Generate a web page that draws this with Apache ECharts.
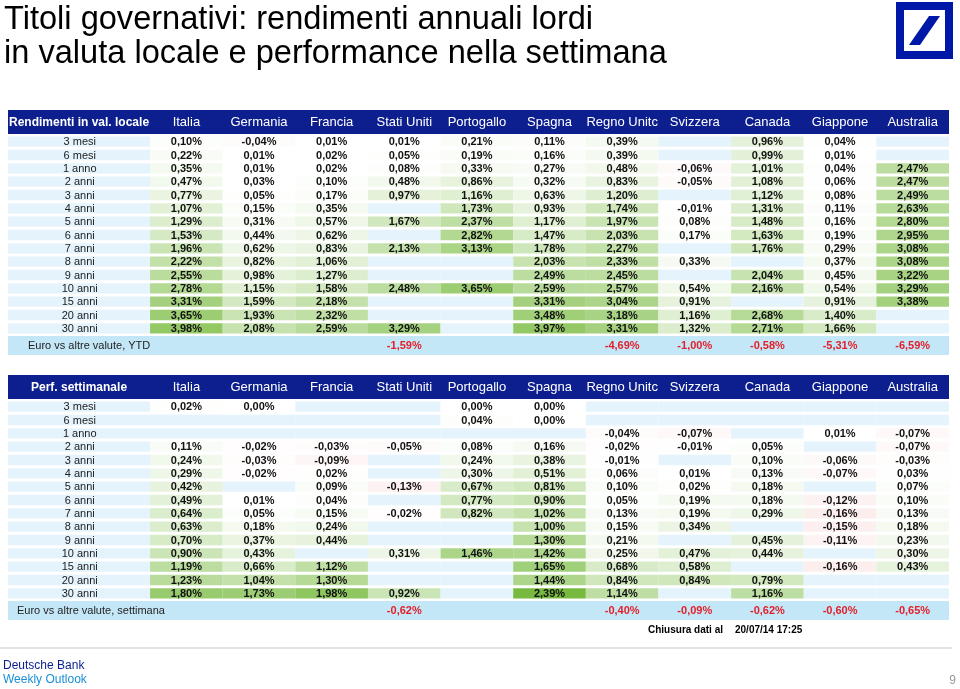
<!DOCTYPE html>
<html><head><meta charset="utf-8">
<script src="https://cdn.jsdelivr.net/npm/echarts@6/dist/echarts.min.js"></script>
<style>html,body{margin:0;padding:0;background:#fff}#c{width:960px;height:689px}</style>
</head><body><div id="c"></div>
<script>
// ---------- DATA ----------
const rowLabels = ['3 mesi','6 mesi','1 anno','2 anni','3 anni','4 anni','5 anni','6 anni','7 anni','8 anni','9 anni','10 anni','15 anni','20 anni','30 anni'];
const countries = ['Italia','Germania','Francia','Stati Uniti','Portogallo','Spagna','Regno Unitc','Svizzera','Canada','Giappone','Australia'];

// Rendimenti in valuta locale (%)
const rendItalia     = [0.10,0.22,0.35,0.47,0.77,1.07,1.29,1.53,1.96,2.22,2.55,2.78,3.31,3.65,3.98];
const rendGermania   = [-0.04,0.01,0.01,0.03,0.05,0.15,0.31,0.44,0.62,0.82,0.98,1.15,1.59,1.93,2.08];
const rendFrancia    = [0.01,0.02,0.02,0.10,0.17,0.35,0.57,0.62,0.83,1.06,1.27,1.58,2.18,2.32,2.59];
const rendStatiUniti = [0.01,0.05,0.08,0.48,0.97,null,1.67,null,2.13,null,null,2.48,null,null,3.29];
const rendPortogallo = [0.21,0.19,0.33,0.86,1.16,1.73,2.37,2.82,3.13,null,null,3.65,null,null,null];
const rendSpagna     = [0.11,0.16,0.27,0.32,0.63,0.93,1.17,1.47,1.78,2.03,2.49,2.59,3.31,3.48,3.97];
const rendRegnoUnito = [0.39,0.39,0.48,0.83,1.20,1.74,1.97,2.03,2.27,2.33,2.45,2.57,3.04,3.18,3.31];
const rendSvizzera   = [null,null,-0.06,-0.05,null,-0.01,0.08,0.17,null,0.33,null,0.54,0.91,1.16,1.32];
const rendCanada     = [0.96,0.99,1.01,1.08,1.12,1.31,1.48,1.63,1.76,null,2.04,2.16,null,2.68,2.71];
const rendGiappone   = [0.04,0.01,0.04,0.06,0.08,0.11,0.16,0.19,0.29,0.37,0.45,0.54,0.91,1.40,1.66];
const rendAustralia  = [null,null,2.47,2.47,2.49,2.63,2.80,2.95,3.08,3.08,3.22,3.29,3.38,null,null];
const euroYTD        = [null,null,null,-1.59,null,null,-4.69,-1.00,-0.58,-5.31,-6.59];

// Performance settimanale (%)
const perfItalia     = [0.02,null,null,0.11,0.24,0.29,0.42,0.49,0.64,0.63,0.70,0.90,1.19,1.23,1.80];
const perfGermania   = [0.00,null,null,-0.02,-0.03,-0.02,null,0.01,0.05,0.18,0.37,0.43,0.66,1.04,1.73];
const perfFrancia    = [null,null,null,-0.03,-0.09,0.02,0.09,0.04,0.15,0.24,0.44,null,1.12,1.30,1.98];
const perfStatiUniti = [null,null,null,-0.05,null,null,-0.13,null,-0.02,null,null,0.31,null,null,0.92];
const perfPortogallo = [0.00,0.04,null,0.08,0.24,0.30,0.67,0.77,0.82,null,null,1.46,null,null,null];
const perfSpagna     = [0.00,0.00,null,0.16,0.38,0.51,0.81,0.90,1.02,1.00,1.30,1.42,1.65,1.44,2.39];
const perfRegnoUnito = [null,null,-0.04,-0.02,-0.01,0.06,0.10,0.05,0.13,0.15,0.21,0.25,0.68,0.84,1.14];
const perfSvizzera   = [null,null,-0.07,-0.01,null,0.01,0.02,0.19,0.19,0.34,null,0.47,0.58,0.84,null];
const perfCanada     = [null,null,null,0.05,0.10,0.13,0.18,0.18,0.29,null,0.45,0.44,null,0.79,1.16];
const perfGiappone   = [null,null,0.01,null,-0.06,-0.07,null,-0.12,-0.16,-0.15,-0.11,null,-0.16,null,null];
const perfAustralia  = [null,null,-0.07,-0.07,-0.03,0.03,0.07,0.10,0.13,0.18,0.23,0.30,0.43,null,null];
const euroSettimana  = [null,null,null,-0.62,null,null,-0.40,-0.09,-0.62,-0.60,-0.65];

const rendCols = [rendItalia,rendGermania,rendFrancia,rendStatiUniti,rendPortogallo,rendSpagna,rendRegnoUnito,rendSvizzera,rendCanada,rendGiappone,rendAustralia];
const perfCols = [perfItalia,perfGermania,perfFrancia,perfStatiUniti,perfPortogallo,perfSpagna,perfRegnoUnito,perfSvizzera,perfCanada,perfGiappone,perfAustralia];

// ---------- STYLE ----------
const FONT = '"Liberation Sans", Arial, sans-serif';
const NAVY = '#0d1f8e';
const EMPTY = '#e4f3fc';
const EURO_BG = '#c4e7f8';
const LABEL_W = 1.956; // label column width in column units

function mix(a, b, t) {
  t = Math.max(0, Math.min(1, t));
  return 'rgb(' + a.map((v, i) => Math.round(v + (b[i] - v) * t)).join(',') + ')';
}
function cellColor(v, posMax, posCol) {
  if (v == null) return EMPTY;
  if (v >= 0) return mix([255,255,255], posCol, v / posMax);
  return mix([255,255,255], [240,150,150], -v / 1.0);
}
function fmt(v) { return v.toFixed(2).replace('.', ',') + '%'; }

function buildItems(title, cols, euroLabel, euroVals, posMax, posCol) {
  const items = [];
  items.push({ v: [-LABEL_W, -1.875, 11, -0.075], fill: NAVY });
  items.push({ v: [-LABEL_W, -1.875, 0, -0.075], text: title, font: 'bold 12px ' + FONT, color: '#fff' });
  countries.forEach((c, j) => items.push({ v: [j, -1.875, j + 1, -0.075], text: c, font: '13px ' + FONT, color: '#fff' }));
  rowLabels.forEach((r, i) => {
    items.push({ v: [-LABEL_W, i, 0, i + 1], fill: EMPTY, inset: 1.5, text: r, font: '11px ' + FONT, color: '#222', textOff: 0.005 });
    cols.forEach((col, j) => {
      const val = col[i];
      items.push({ v: [j, i, j + 1, i + 1], fill: cellColor(val, posMax, posCol), inset: 1.5,
                   text: val == null ? '' : fmt(val), font: 'bold 11px ' + FONT, color: '#111' });
    });
  });
  items.push({ v: [-LABEL_W, 15.08, 11, 16.5], fill: EURO_BG });
  items.push({ v: [-LABEL_W, 15.08, 0, 16.5], text: euroLabel, font: '11px ' + FONT, color: '#222', align: 'left', leftPad: euroLabel.length > 26 ? 9 : 20 });
  euroVals.forEach((val, j) => {
    if (val != null) items.push({ v: [j, 15.08, j + 1, 16.5], text: fmt(val), font: 'bold 11px ' + FONT, color: '#e3202a' });
  });
  return items;
}

function makeSeries(idx, items) {
  return {
    type: 'custom', coordinateSystem: 'cartesian2d', xAxisIndex: idx, yAxisIndex: idx,
    silent: true, animation: false,
    encode: { x: [0, 2], y: [1, 3] },
    data: items.map(it => it.v),
    renderItem: function (params, api) {
      const it = items[params.dataIndex];
      const p0 = api.coord([api.value(0), api.value(1)]);
      const p1 = api.coord([api.value(2), api.value(3)]);
      const inset = it.inset || 0;
      const x = Math.min(p0[0], p1[0]), w = Math.abs(p1[0] - p0[0]);
      const y = Math.min(p0[1], p1[1]) + inset, h = Math.abs(p1[1] - p0[1]) - 2 * inset;
      const children = [];
      if (it.fill) children.push({ type: 'rect', shape: { x: x, y: y, width: w, height: h }, style: { fill: it.fill } });
      if (it.text) {
        const left = it.align === 'left';
        children.push({ type: 'text', style: {
          text: it.text, font: it.font, fill: it.color,
          x: left ? x + it.leftPad : x + w / 2 + (it.textOff || 0) * w, y: y + h / 2 + 0.5,
          textAlign: left ? 'left' : 'center', textVerticalAlign: 'middle' } });
      }
      return { type: 'group', children: children };
    }
  };
}

const topItems = buildItems('Rendimenti in val. locale', rendCols, 'Euro vs altre valute, YTD', euroYTD, 4.0, [146,200,100]);
const botItems = buildItems('Perf. settimanale', perfCols, 'Euro vs altre valute, settimana', euroSettimana, 2.4, [118,186,62]);

const chart = echarts.init(document.getElementById('c'), null, { renderer: 'canvas' });
const axX = i => ({ type: 'value', gridIndex: i, min: -LABEL_W, max: 11, show: false, splitLine: { show: false } });
const axY = i => ({ type: 'value', gridIndex: i, min: -1.875, max: 16.5, inverse: true, show: false, splitLine: { show: false } });
chart.setOption({
  animation: false,
  grid: [
    { left: 8, right: 11, top: 110, height: 245 },
    { left: 8, right: 11, top: 375, height: 245 }
  ],
  xAxis: [axX(0), axX(1)],
  yAxis: [axY(0), axY(1)],
  series: [makeSeries(0, topItems), makeSeries(1, botItems)],
  graphic: [
    { type: 'text', left: 4, top: 3, style: { text: 'Titoli governativi: rendimenti annuali lordi\nin valuta locale e performance nella settimana', font: '32.6px ' + FONT, fill: '#000', lineHeight: 34 } },
    { type: 'rect', shape: { x: 900, y: 6, width: 49, height: 49 }, style: { fill: 'none', stroke: '#0018a8', lineWidth: 8 } },
    { type: 'polygon', shape: { points: [[909,45],[920,45],[940,16],[929,16]] }, style: { fill: '#0018a8' } },
    { type: 'text', x: 648, y: 630, style: { text: 'Chiusura dati al', font: 'bold 10px ' + FONT, fill: '#000', textVerticalAlign: 'middle' } },
    { type: 'text', x: 735, y: 630, style: { text: '20/07/14 17:25', font: 'bold 10px ' + FONT, fill: '#000', textVerticalAlign: 'middle' } },
    { type: 'line', shape: { x1: 0, y1: 648, x2: 952, y2: 648 }, style: { stroke: '#c8c8c8', lineWidth: 1.2 } },
    { type: 'text', x: 3, y: 666, style: { text: 'Deutsche Bank', font: '12px ' + FONT, fill: '#0a1e8c', textVerticalAlign: 'middle' } },
    { type: 'text', x: 3, y: 680, style: { text: 'Weekly Outlook', font: '12px ' + FONT, fill: '#1a8fd8', textVerticalAlign: 'middle' } },
    { type: 'text', x: 956, y: 681, style: { text: '9', font: '12px ' + FONT, fill: '#999', textAlign: 'right', textVerticalAlign: 'middle' } }
  ]
});
</script></body></html>
